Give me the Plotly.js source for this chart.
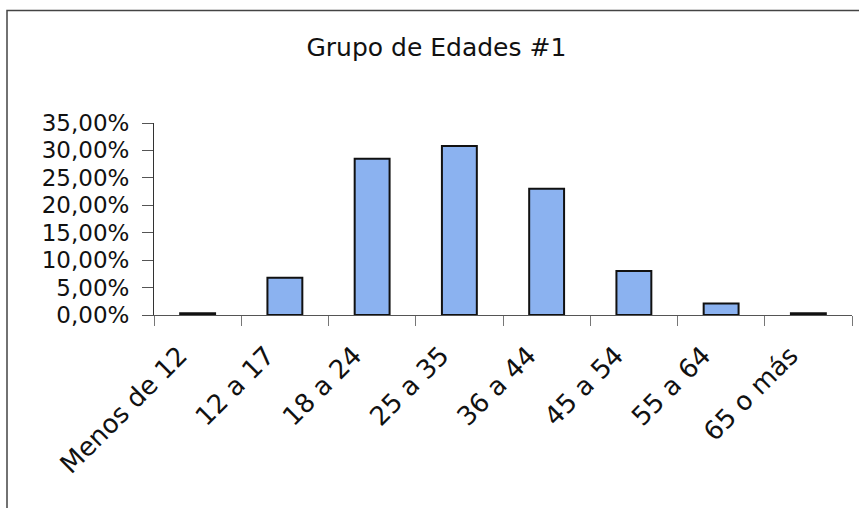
<!DOCTYPE html>
<html>
<head>
<meta charset="utf-8">
<script src="https://cdn.plot.ly/plotly-3.0.1.min.js"></script>
<style>
  html, body { margin: 0; padding: 0; background: #ffffff; }
  #chart { width: 859px; height: 508px; }
</style>
</head>
<body>
<div id="chart"></div>
<script>
// Age groups and their share of the total
const grupos = ["Menos de 12", "12 a 17", "18 a 24", "25 a 35", "36 a 44", "45 a 54", "55 a 64", "65 o más"];
const porcentajes = [0.003, 0.068, 0.285, 0.308, 0.230, 0.080, 0.021, 0.003];
const tituloGrafico = "Grupo de Edades #1";

const fuente = "DejaVu Sans, Liberation Sans, Arial, sans-serif";

const trace = {
  type: "bar",
  x: grupos,
  y: porcentajes,
  marker: {
    color: "#8bb2f0",
    line: { color: "#111111", width: 2 }
  },
  hoverinfo: "x+y"
};

const layout = {
  width: 859,
  height: 508,
  margin: { l: 154, r: 7, t: 123, b: 193, pad: 0 },
  paper_bgcolor: "#ffffff",
  plot_bgcolor: "#ffffff",
  separators: ",.",
  showlegend: false,
  bargap: 0.6,
  font: { family: fuente, color: "#111111", size: 24 },
  title: {
    text: tituloGrafico,
    font: { family: fuente, size: 25, color: "#111111" },
    x: 0.508,
    xanchor: "center",
    y: 0.907,
    yanchor: "middle",
    xref: "container",
    yref: "container"
  },
  xaxis: {
    type: "category",
    tickson: "boundaries",
    ticks: "outside",
    ticklen: 10,
    tickcolor: "#777777",
    tickwidth: 1,
    tickangle: -45,
    ticklabelstandoff: 14,
    ticklabelshift: -18,
    tickfont: { family: fuente, size: 26, color: "#111111" },
    showline: true,
    linecolor: "#555555",
    linewidth: 1,
    showgrid: false,
    zeroline: false
  },
  yaxis: {
    range: [0, 0.35],
    dtick: 0.05,
    tick0: 0,
    tickformat: ".2%",
    ticks: "outside",
    ticklen: 11,
    tickcolor: "#555555",
    tickwidth: 1,
    ticklabelstandoff: 8,
    tickfont: { family: fuente, size: 23, color: "#111111" },
    showline: true,
    linecolor: "#333333",
    linewidth: 1,
    showgrid: false,
    zeroline: false,
    fixedrange: true
  },
  shapes: [
    {
      // outer chart frame (top and left edges)
      type: "path",
      xref: "paper",
      yref: "paper",
      path: "M -0.2106 -1.02 L -0.2106 1.586 L 1.02 1.586",
      line: { color: "#444444", width: 1.5 }
    }
  ]
};

Plotly.newPlot("chart", [trace], layout, { displayModeBar: false, staticPlot: true });
</script>
</body>
</html>
